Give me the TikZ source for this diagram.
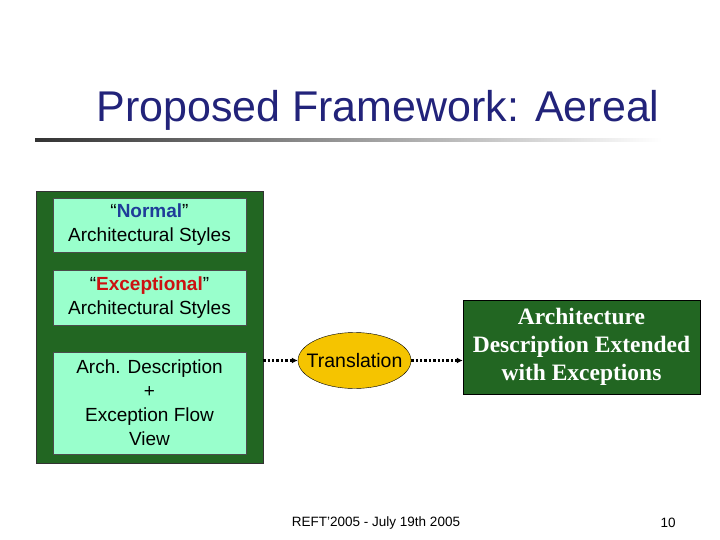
\documentclass[tikz,border=0pt]{standalone}
\usepackage{fontspec}
\setmainfont{Liberation Sans}
\newfontfamily\serifb{Liberation Serif}
\usetikzlibrary{shapes.geometric,arrows.meta}
\definecolor{dkgreen}{HTML}{226622}
\definecolor{mint}{HTML}{99FFCC}
\definecolor{ttl}{HTML}{22237A}
\definecolor{nblue}{HTML}{1F3C99}
\definecolor{ered}{HTML}{CC1111}
\definecolor{ygold}{HTML}{F5C400}
\tikzset{
 inbox/.style={draw=black!70,fill=mint,minimum width=193pt,align=center,font=\fontsize{19}{24}\selectfont,inner sep=0pt},
 conn/.style={dotted,line width=2.4pt,-{Latex[length=6pt,width=6pt]}}
}
\begin{document}
\begin{tikzpicture}[x=1pt,y=-1pt]
\useasboundingbox (0,0) rectangle (720,540);
\fill[white] (0,0) rectangle (720,540);
\node[text=ttl,font=\fontsize{43}{50}\selectfont] (title) at (378,110) {Proposed Framework: Aereal};
\shade[left color=black!80,right color=white] (35,139) rectangle (662,142);
\node[draw=black!80,fill=dkgreen,minimum width=227pt,minimum height=272pt,inner sep=0pt] (outer) at (149.5,327) {};
\node[inbox,minimum height=54pt] (b1) at (149.5,225) {``\textcolor{nblue}{\textbf{Normal}}''\\Architectural Styles};
\node[inbox,minimum height=55pt] (b2) at (149.5,297.5) {``\textcolor{ered}{\textbf{Exceptional}}''\\Architectural Styles};
\node[inbox,minimum height=102pt] (b3) at (149.5,403) {Arch. Description\\+\\Exception Flow\\View};
\node[ellipse,draw=black,fill=ygold,minimum width=113pt,minimum height=56pt,inner sep=0pt] (tr) at (354.5,360.5) {};
\node[font=\fontsize{19.5}{24}\selectfont] (trt) at (tr.center) {Translation};
\node[draw=black,fill=dkgreen,minimum width=237pt,minimum height=94pt,inner sep=0pt] (ad) at (581.5,347) {};
\node[text=white,align=center,font=\serifb\bfseries\fontsize{23.5}{28}\selectfont] (adt) at (ad.center) {Architecture\\Description Extended\\with Exceptions};
\draw[conn] (outer.east |- tr) -- (tr.west);
\draw[conn] (tr.east) -- (ad.west |- tr);
\node[font=\fontsize{13.5}{16}\selectfont] (foot) at (376,523) {REFT'2005 - July 19th 2005};
\node[font=\fontsize{13.5}{16}\selectfont] (pg) at (668,523) {10};
\end{tikzpicture}
\end{document}
